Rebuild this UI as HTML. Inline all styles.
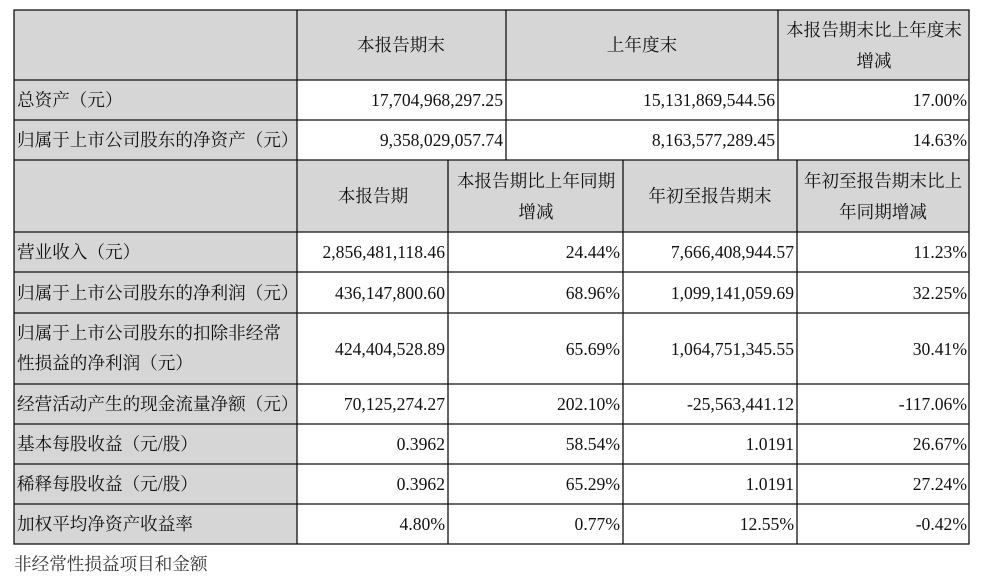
<!DOCTYPE html>
<html><head><meta charset="utf-8"><style>
body{margin:0;background:#fff;}
svg text{font-family:"Liberation Serif","Noto Serif CJK SC",serif;font-size:17.6px;fill:#111;}
.l{text-anchor:start}.r{text-anchor:end}.c{text-anchor:middle}
</style></head><body>
<svg width="985" height="580" xmlns="http://www.w3.org/2000/svg">
<g fill="#d6d6d6">
<rect x="14" y="10" width="955" height="70"/>
<rect x="14" y="160" width="955" height="72"/>
<rect x="14" y="80" width="283" height="80"/>
<rect x="14" y="232" width="283" height="312"/>
</g>
<g stroke="#111" stroke-width="1.3" fill="none">
<rect x="14" y="10" width="955" height="534"/>
<line x1="14" y1="80" x2="969" y2="80"/>
<line x1="14" y1="120" x2="969" y2="120"/>
<line x1="14" y1="160" x2="969" y2="160"/>
<line x1="14" y1="232" x2="969" y2="232"/>
<line x1="14" y1="272" x2="969" y2="272"/>
<line x1="14" y1="313" x2="969" y2="313"/>
<line x1="14" y1="384" x2="969" y2="384"/>
<line x1="14" y1="424" x2="969" y2="424"/>
<line x1="14" y1="464" x2="969" y2="464"/>
<line x1="14" y1="504" x2="969" y2="504"/>
<line x1="297" y1="10" x2="297" y2="544"/>
<line x1="506" y1="10" x2="506" y2="160"/>
<line x1="778" y1="10" x2="778" y2="160"/>
<line x1="448" y1="160" x2="448" y2="544"/>
<line x1="623" y1="160" x2="623" y2="544"/>
<line x1="797" y1="160" x2="797" y2="544"/>
</g>
<text class="c" x="401" y="51">本报告期末</text>
<text class="c" x="642" y="51">上年度末</text>
<text class="c" x="874" y="36">本报告期末比上年度末</text>
<text class="c" x="874" y="67">增减</text>
<text class="l" x="17" y="106">总资产（元）</text>
<text class="r" x="503" y="106">17,704,968,297.25</text>
<text class="r" x="775" y="106">15,131,869,544.56</text>
<text class="r" x="967" y="106">17.00%</text>
<text class="l" x="17" y="146">归属于上市公司股东的净资产（元）</text>
<text class="r" x="503" y="146">9,358,029,057.74</text>
<text class="r" x="775" y="146">8,163,577,289.45</text>
<text class="r" x="967" y="146">14.63%</text>
<text class="c" x="373" y="202">本报告期</text>
<text class="c" x="536" y="187">本报告期比上年同期</text>
<text class="c" x="536" y="218">增减</text>
<text class="c" x="710" y="202">年初至报告期末</text>
<text class="c" x="883" y="187">年初至报告期末比上</text>
<text class="c" x="883" y="218">年同期增减</text>
<g>
<text class="l" x="17" y="258">营业收入（元）</text>
<text class="r" x="445" y="258">2,856,481,118.46</text>
<text class="r" x="620" y="258">24.44%</text>
<text class="r" x="794" y="258">7,666,408,944.57</text>
<text class="r" x="967" y="258">11.23%</text>
<text class="l" x="17" y="299">归属于上市公司股东的净利润（元）</text>
<text class="r" x="445" y="299">436,147,800.60</text>
<text class="r" x="620" y="299">68.96%</text>
<text class="r" x="794" y="299">1,099,141,059.69</text>
<text class="r" x="967" y="299">32.25%</text>
<text class="l" x="17" y="339">归属于上市公司股东的扣除非经常</text>
<text class="l" x="17" y="369">性损益的净利润（元）</text>
<text class="r" x="445" y="355">424,404,528.89</text>
<text class="r" x="620" y="355">65.69%</text>
<text class="r" x="794" y="355">1,064,751,345.55</text>
<text class="r" x="967" y="355">30.41%</text>
<text class="l" x="17" y="410">经营活动产生的现金流量净额（元）</text>
<text class="r" x="445" y="410">70,125,274.27</text>
<text class="r" x="620" y="410">202.10%</text>
<text class="r" x="794" y="410">-25,563,441.12</text>
<text class="r" x="967" y="410">-117.06%</text>
<text class="l" x="17" y="450">基本每股收益（元/股）</text>
<text class="r" x="445" y="450">0.3962</text>
<text class="r" x="620" y="450">58.54%</text>
<text class="r" x="794" y="450">1.0191</text>
<text class="r" x="967" y="450">26.67%</text>
<text class="l" x="17" y="490">稀释每股收益（元/股）</text>
<text class="r" x="445" y="490">0.3962</text>
<text class="r" x="620" y="490">65.29%</text>
<text class="r" x="794" y="490">1.0191</text>
<text class="r" x="967" y="490">27.24%</text>
<text class="l" x="17" y="530">加权平均净资产收益率</text>
<text class="r" x="445" y="530">4.80%</text>
<text class="r" x="620" y="530">0.77%</text>
<text class="r" x="794" y="530">12.55%</text>
<text class="r" x="967" y="530">-0.42%</text>
</g>
<text class="l" x="14" y="570" style="fill:#333">非经常性损益项目和金额</text>
</svg>
</body></html>
